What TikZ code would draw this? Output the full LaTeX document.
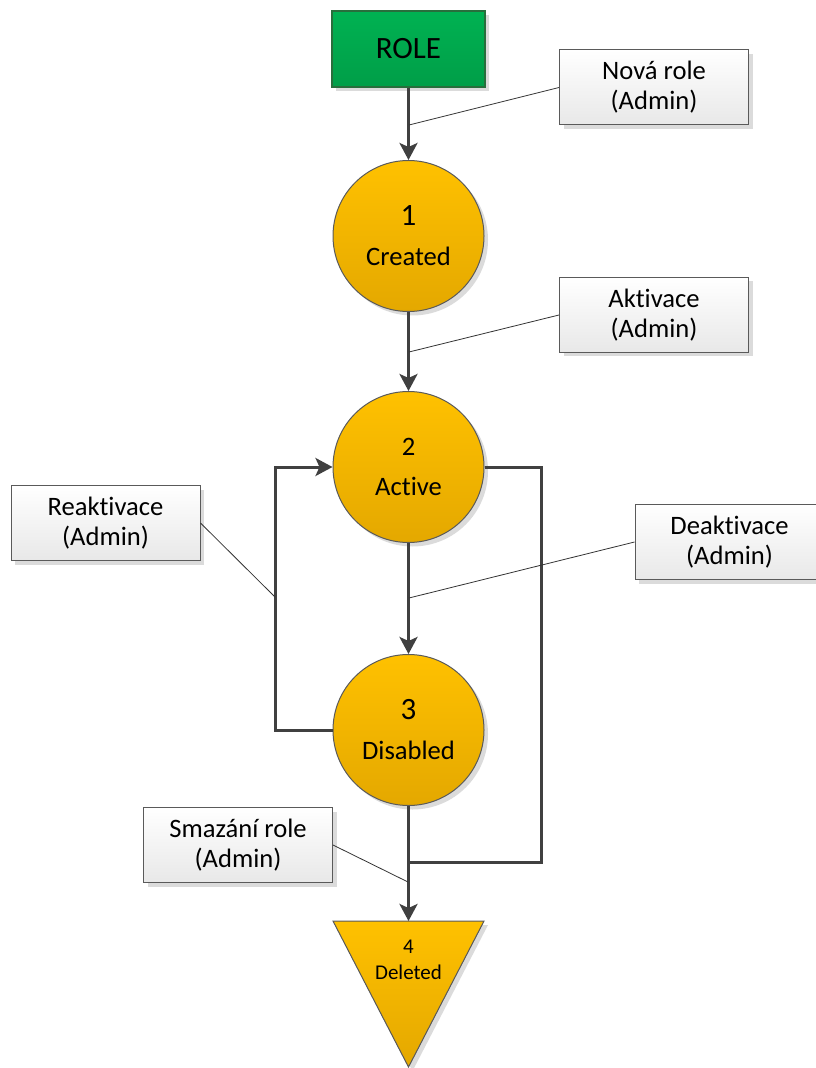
\documentclass[tikz,border=0pt]{standalone}
\usepackage{fontspec}
\setmainfont{Carlito}[Ligatures=NoCommon]
\usetikzlibrary{arrows.meta,shadows,positioning}

\definecolor{roleTop}{RGB}{0,178,82}
\definecolor{roleBot}{RGB}{0,158,72}
\definecolor{roleLine}{RGB}{40,110,60}
\definecolor{stateTop}{RGB}{255,193,0}
\definecolor{stateBot}{RGB}{228,168,0}
\definecolor{stateLine}{RGB}{90,90,90}
\definecolor{flowGray}{RGB}{64,64,64}
\definecolor{noteBot}{RGB}{232,232,232}

\tikzset{every picture/.style={line width=0.75pt}}
\tikzset{
  shade/.style={drop shadow={shadow xshift=2pt, shadow yshift=-2pt, fill=black!14, opacity=1}},
  rolebox/.style={rectangle, draw=roleLine, line width=0.6pt, top color=roleTop, bottom color=roleBot,
    minimum width=76.5pt, minimum height=38pt, inner sep=0pt, shade, font=\fontsize{15.5}{18}\selectfont},
  state/.style={circle, draw=stateLine, line width=0.5pt, top color=stateTop, bottom color=stateBot,
    minimum size=75.5pt, inner sep=0pt, align=center, shade, font=\fontsize{13.3}{20}\selectfont},
  note/.style={rectangle, draw=stateLine, line width=0.5pt, top color=white, bottom color=noteBot,
    minimum width=94.5pt, minimum height=37.5pt, inner sep=0pt, align=center, shade,
    font=\fontsize{13.3}{15}\selectfont},
  flow/.style={line width=1.5pt, color=flowGray, -{Stealth[length=8.5pt, width=9pt, inset=2pt]}},
  wire/.style={line width=1.5pt, color=flowGray},
  pointer/.style={thin, color=black!80}
}

\begin{document}
\begin{tikzpicture}[x=0.5pt, y=-0.5pt]
    \useasboundingbox (0,0) rectangle (815,1068);

    % states
    \node[rolebox] (role) at (408.5,49) {ROLE};
    \node[state] (created) at (408.5,236) {{\fontsize{15.5}{20}\selectfont 1}\\Created};
    \node[state] (active) at (408.5,467) {2\\Active};
    \node[state] (disabled) at (408.5,730) {{\fontsize{15.5}{20}\selectfont 3}\\Disabled};

    \coordinate (delTop) at (408.5,921);
    \filldraw[draw=stateLine, line width=0.5pt, top color=stateTop, bottom color=stateBot, shade]
        (333,921) -- (484,921) -- (408.5,1067) -- cycle;
    \node[font=\fontsize{10.5}{13}\selectfont, align=center] (deleted) at (408.5,960) {4\\Deleted};

    % transitions
    \coordinate (join) at (408.5,862);
    \draw[flow] (role.south) -- (created.north);
    \draw[flow] (created.south) -- (active.north);
    \draw[flow] (active.south) -- (disabled.north);
    \draw[flow] (disabled.west) -- ++(-57,0) |- (active.west);
    \draw[wire] (active.east) -- ++(57,0) |- (join);
    \draw[flow] (disabled.south) -- (delTop);

    % notes
    \node[note] (novaRole) at (654,87.5) {Nová role\\(Admin)};
    \node[note] (aktivace) at (654,315) {Aktivace\\(Admin)};
    \node[note] (reaktivace) at (105.5,523) {Reaktivace\\(Admin)};
    \node[note] (deaktivace) at (729.5,542) {Deaktivace\\(Admin)};
    \node[note] (smazani) at (238,845) {Smazání role\\(Admin)};

    \coordinate (p1) at (409,125);
    \coordinate (p2) at (409,352);
    \coordinate (p3) at (275,597);
    \coordinate (p4) at (409,598);
    \coordinate (p5) at (408,882);
    \draw[pointer] (novaRole.west) -- (p1);
    \draw[pointer] (aktivace.west) -- (p2);
    \draw[pointer] (reaktivace.east) -- (p3);
    \draw[pointer] (deaktivace.west) -- (p4);
    \draw[pointer] (smazani.east) -- (p5);
\end{tikzpicture}
\end{document}
